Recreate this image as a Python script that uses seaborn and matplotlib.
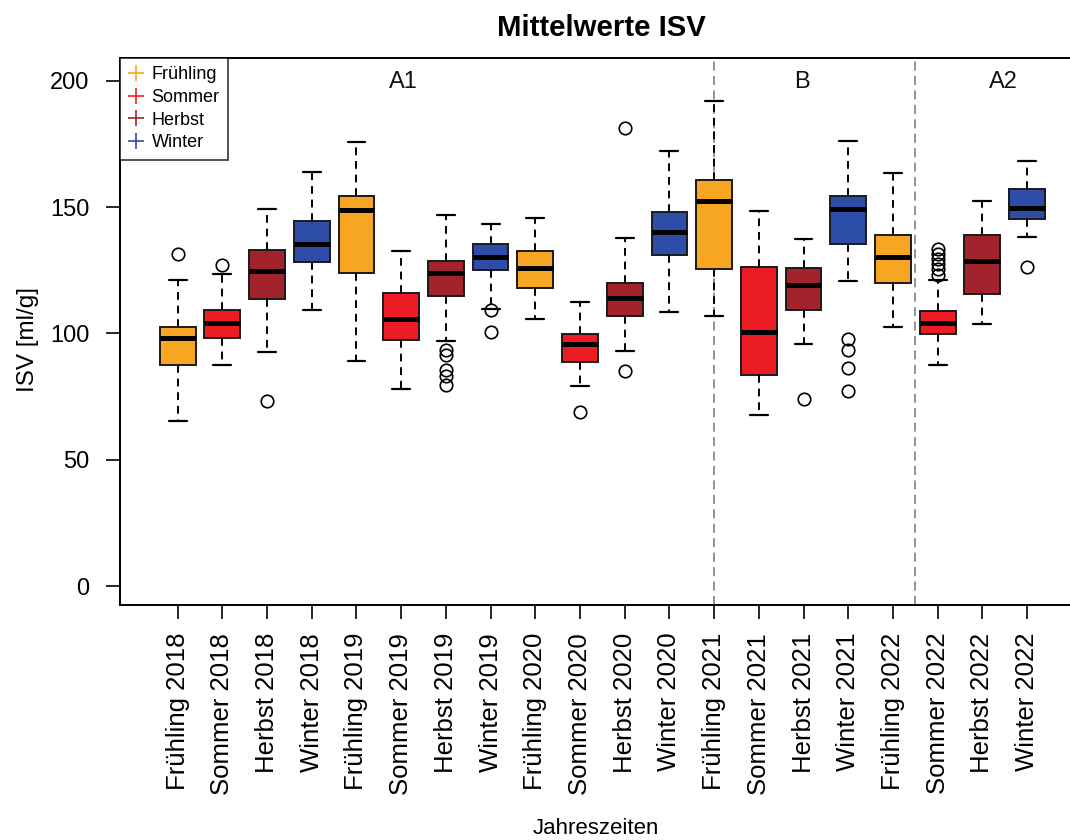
import matplotlib
matplotlib.use("Agg")
import matplotlib.pyplot as plt
from matplotlib.lines import Line2D
import seaborn as sns

# Seasons and their fill colours
seasons = ["Frühling", "Sommer", "Herbst", "Winter"]
season_colors = ["#F6A623", "#EC1C24", "#A2232B", "#2D4DA8"]
years = ["2018", "2019", "2020", "2021", "2022"]

labels = [f"{s} {y}" for y in years for s in seasons]

# Box statistics of the ISV (ml/g), one entry per season and year
whislo = [65.3, 87.4, 92.6, 109.4,
          89.2, 78.0, 97.1, 109.8,
          105.5, 79.0, 92.9, 108.3,
          107.0, 67.6, 95.8, 120.9,
          102.6, 87.6, 103.6, 138.0]
q1 = [87.5, 98.0, 113.5, 128.2,
      124.0, 97.5, 114.9, 125.0,
      117.8, 88.8, 106.7, 130.9,
      125.4, 83.5, 109.4, 135.4,
      120.0, 99.7, 115.6, 145.3]
median = [98.2, 104.2, 124.8, 135.4,
          148.7, 105.6, 124.0, 130.2,
          126.0, 95.7, 114.1, 140.3,
          152.4, 100.4, 119.0, 149.2,
          130.4, 104.2, 128.8, 149.7]
q3 = [102.6, 109.3, 133.2, 144.4,
      154.5, 115.9, 128.8, 135.3,
      132.8, 99.9, 120.0, 148.2,
      160.9, 126.4, 125.8, 154.3,
      138.8, 108.7, 139.0, 157.1]
whishi = [121.0, 123.6, 149.2, 164.0,
          175.6, 132.5, 147.0, 143.4,
          145.8, 112.4, 137.6, 172.1,
          191.9, 148.3, 137.3, 176.2,
          163.3, 121.3, 152.3, 168.1]
outliers = [[131.3], [127.2], [73.4], [],
            [], [], [93.5, 91.5, 85.5, 83.2, 79.5], [109.2, 100.5],
            [], [68.8], [85.2, 181.1], [],
            [], [], [74.2], [97.8, 93.3, 86.2, 77.2],
            [], [123.2, 125.3, 127.4, 129.5, 131.4, 133.4], [], [126.4]]

# Phase labels and their boundaries (in box positions)
phases = ["A1", "B", "A2"]
phase_label_x = [5.06, 13.97, 18.46]
phase_bounds = [12, 16.5]

sns.set_theme(style="white")
plt.rcParams["font.family"] = ["Liberation Sans", "DejaVu Sans"]
plt.rcParams["text.color"] = "black"
plt.rcParams["axes.labelcolor"] = "black"
plt.rcParams["xtick.color"] = "black"
plt.rcParams["ytick.color"] = "black"

fig = plt.figure(figsize=(10.7, 8.4), dpi=100)
ax = fig.add_axes([120 / 1070, 235 / 840, 950 / 1070, 547 / 840])

stats = []
for i in range(len(labels)):
    stats.append(dict(label=labels[i], whislo=whislo[i], q1=q1[i], med=median[i],
                      q3=q3[i], whishi=whishi[i], fliers=outliers[i]))

bp = ax.bxp(stats, positions=list(range(len(labels))), widths=0.8, capwidths=0.4,
            patch_artist=True, showfliers=True,
            boxprops=dict(edgecolor="#1a1a1a", linewidth=1.4),
            medianprops=dict(color="black", linewidth=3.6, solid_capstyle="butt"),
            whiskerprops=dict(color="black", linewidth=1.4, linestyle=(0, (4, 3))),
            capprops=dict(color="black", linewidth=1.6),
            flierprops=dict(marker="o", markerfacecolor="none", markeredgecolor="black",
                            markersize=9, markeredgewidth=1.2))
for i, patch in enumerate(bp["boxes"]):
    patch.set_facecolor(season_colors[i % 4])

for xb in phase_bounds:
    ax.axvline(xb, color="#8a8a8a", linewidth=1.3, linestyle=(0, (5, 3)), zorder=0)

for name, xp in zip(phases, phase_label_x):
    ax.text(xp, 199.5, name, ha="center", va="center", fontsize=17, color="#111111")

ax.set_xlim(-1.29, 19.96)
ax.set_ylim(-7.5, 209)
ax.set_yticks([0, 50, 100, 150, 200])
ax.set_xticks(range(len(labels)))
ax.set_xticklabels(labels, rotation=90, fontsize=18.5)
ax.tick_params(axis="y", labelsize=17, length=10, width=1.2, direction="out",
               pad=12, left=True)
ax.tick_params(axis="x", length=10, width=1.2, direction="out", pad=10,
               bottom=True)

for side in ["left", "top", "bottom"]:
    ax.spines[side].set_color("black")
    ax.spines[side].set_linewidth(1.4)
ax.spines["right"].set_visible(False)

handles = [Line2D([], [], marker="+", linestyle="none", color=c, markersize=11,
                  markeredgewidth=1.2) for c in season_colors]
leg = ax.legend(handles, seasons, loc="upper left", bbox_to_anchor=(0, 1),
                borderaxespad=0, fontsize=13, frameon=True, fancybox=False,
                handlelength=0.9, handletextpad=0.4, labelspacing=0.32,
                borderpad=0.45)
leg.get_frame().set_edgecolor("black")
leg.get_frame().set_linewidth(1.2)

fig.text(601 / 1070, 1 - 28 / 840, "Mittelwerte ISV", ha="center", va="center",
         fontsize=21.2, fontweight="bold")
fig.text(28 / 1070, 1 - 340 / 840, "ISV [ml/g]", ha="center", va="center",
         rotation=90, fontsize=17.5)
fig.text(596 / 1070, 1 - 828 / 840, "Jahreszeiten", ha="center", va="center",
         fontsize=16)

fig.savefig("out.png", dpi=100)
